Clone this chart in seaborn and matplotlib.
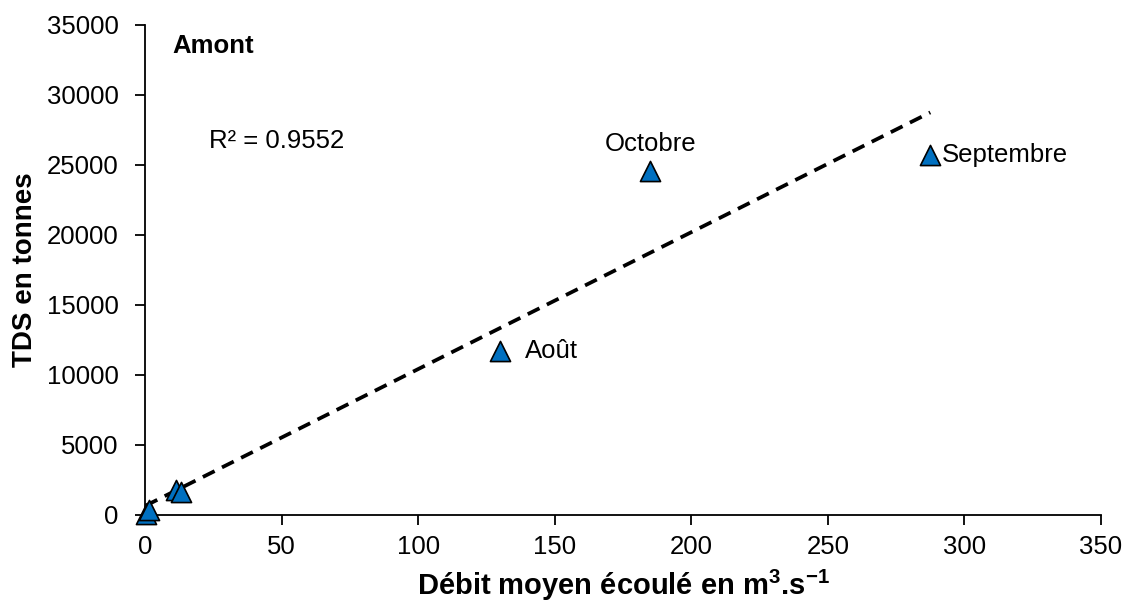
import numpy as np
import pandas as pd
import matplotlib
matplotlib.use("Agg")
import matplotlib.pyplot as plt
import seaborn as sns

# Data
debit = [0.2, 1.5, 11.4, 13.0, 130.0, 185.0, 287.5]
tds = [70, 350, 1750, 1600, 11700, 24550, 25700]
mois = ["", "", "", "", "Août", "Octobre", "Septembre"]
r2_text = "R² = 0.9552"
x_ticks = [0, 50, 100, 150, 200, 250, 300, 350]
y_ticks = [0, 5000, 10000, 15000, 20000, 25000, 30000, 35000]

df = pd.DataFrame({"debit": debit, "tds": tds, "mois": mois})

sns.set_theme(style="ticks")
plt.rcParams["font.family"] = ["Liberation Sans", "DejaVu Sans"]
plt.rcParams["mathtext.fontset"] = "custom"
plt.rcParams["mathtext.rm"] = "Liberation Sans"
plt.rcParams["mathtext.bf"] = "Liberation Sans:bold"
plt.rcParams["text.color"] = "black"
plt.rcParams["axes.labelcolor"] = "black"

W, H = 1133, 603
fig = plt.figure(figsize=(W / 100, H / 100), dpi=100)
L, R, B, T = 145, 1101, 514.5, 24.5
ax = fig.add_axes([L / W, 1 - B / H, (R - L) / W, (B - T) / H])

sns.regplot(data=df, x="debit", y="tds", ax=ax, ci=None, truncate=True,
            scatter=False,
            line_kws=dict(color="black", linestyle=(0, (3.5, 2.2)), linewidth=2.7))
sns.scatterplot(data=df, x="debit", y="tds", ax=ax, marker="^", s=210,
                color="#0070C0", edgecolor="black", linewidth=1.2, zorder=3,
                clip_on=False)

ax.set_xlim(0, 350)
ax.set_ylim(0, 35000)
ax.set_xticks(x_ticks)
ax.set_yticks(y_ticks)
ax.tick_params(labelsize=18.5, length=7, width=1.3, color="black", labelcolor="black")
ax.tick_params(axis="y", pad=12)
ax.tick_params(axis="x", pad=8)
for s in ["left", "bottom"]:
    ax.spines[s].set_color("black")
    ax.spines[s].set_linewidth(1.3)
sns.despine(ax=ax)

ax.set_xlabel(r"Débit moyen écoulé en m$^{\mathbf{3}}$.s$^{\mathbf{-1}}$",
              fontsize=21, fontweight="bold", labelpad=6)
ax.set_ylabel("TDS en tonnes", fontsize=20, fontweight="bold", labelpad=6)

for _, r in df.iterrows():
    if r["mois"] == "Octobre":
        ax.annotate(r["mois"], (r["debit"], r["tds"]), xytext=(0, 19.5), textcoords="offset points",
                    ha="center", va="center", fontsize=18.5)
    elif r["mois"] == "Septembre":
        ax.annotate(r["mois"], (r["debit"], r["tds"]), xytext=(8.5, 0), textcoords="offset points",
                    ha="left", va="center", fontsize=18.5)
    elif r["mois"] == "Août":
        ax.annotate(r["mois"], (r["debit"], r["tds"]), xytext=(18, 0), textcoords="offset points",
                    ha="left", va="center", fontsize=18.5)

ax.text(0.029, 0.957, "Amont", transform=ax.transAxes, fontsize=18.5, fontweight="bold",
        ha="left", va="center")
ax.text(0.067, 0.763, r2_text, transform=ax.transAxes, fontsize=18.5, ha="left", va="center")

fig.savefig("out.png", dpi=100)
